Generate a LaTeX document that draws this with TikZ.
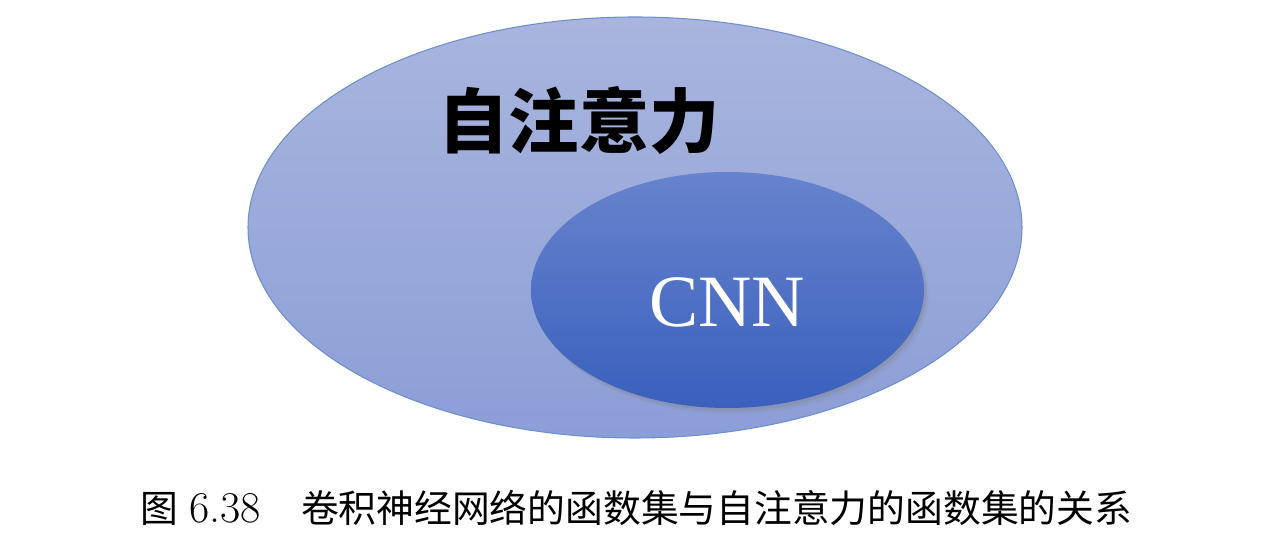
\documentclass[tikz,border=0pt]{standalone}
\usepackage{fontspec}
\setmainfont{Latin Modern Roman}
\newfontfamily\cjk{Noto Sans CJK SC}
\newfontfamily\cnnfont{Liberation Serif}
\usepackage{tikz}
\usetikzlibrary{shapes.geometric,shadows}
\definecolor{outertop}{HTML}{A9B5DE}
\definecolor{outerbot}{HTML}{8B9ED6}
\definecolor{outerline}{HTML}{6F8ED0}
\definecolor{innertop}{HTML}{6783CD}
\definecolor{innerbot}{HTML}{3A60BD}
\tikzset{my set/.style={
  ellipse,
  inner sep=0pt
  },
  soft shadow/.style={
  drop shadow={shadow xshift=0.10cm,shadow yshift=-0.13cm,opacity=0.08},
  drop shadow={shadow xshift=0.07cm,shadow yshift=-0.09cm,opacity=0.14},
  drop shadow={shadow xshift=0.04cm,shadow yshift=-0.05cm,opacity=0.22}
  }
}

\begin{document}
\begin{tikzpicture}
    \useasboundingbox (0,0) rectangle (25.66,10.92);

    \node[my set,draw=outerline,line width=0.6pt,top color=outertop,bottom color=outerbot,
        minimum width=15.48cm,minimum height=8.42cm] (attn) at (12.70,6.37) {};
    \node[my set,top color=innertop,bottom color=innerbot,soft shadow,
        minimum width=7.86cm,minimum height=4.72cm] (cnn) at (14.55,5.12) {};

    \node[font=\cjk\bfseries\fontsize{40}{48}\selectfont] (attnlabel) at (11.58,8.50) {自注意力};
    \node[font=\cnnfont\fontsize{42}{50}\selectfont,text=white] (cnnlabel) at (14.54,4.88) {CNN};

    \node[font=\fontsize{21.5}{26}\selectfont] (caption) at (12.73,0.76)
        {{\cjk 图}\hspace{0.22cm}{\fontsize{25}{30}\selectfont 6.38}\hspace{0.8cm}{\cjk 卷积神经网络的函数集与自注意力的函数集的关系}};
\end{tikzpicture}
\end{document}
